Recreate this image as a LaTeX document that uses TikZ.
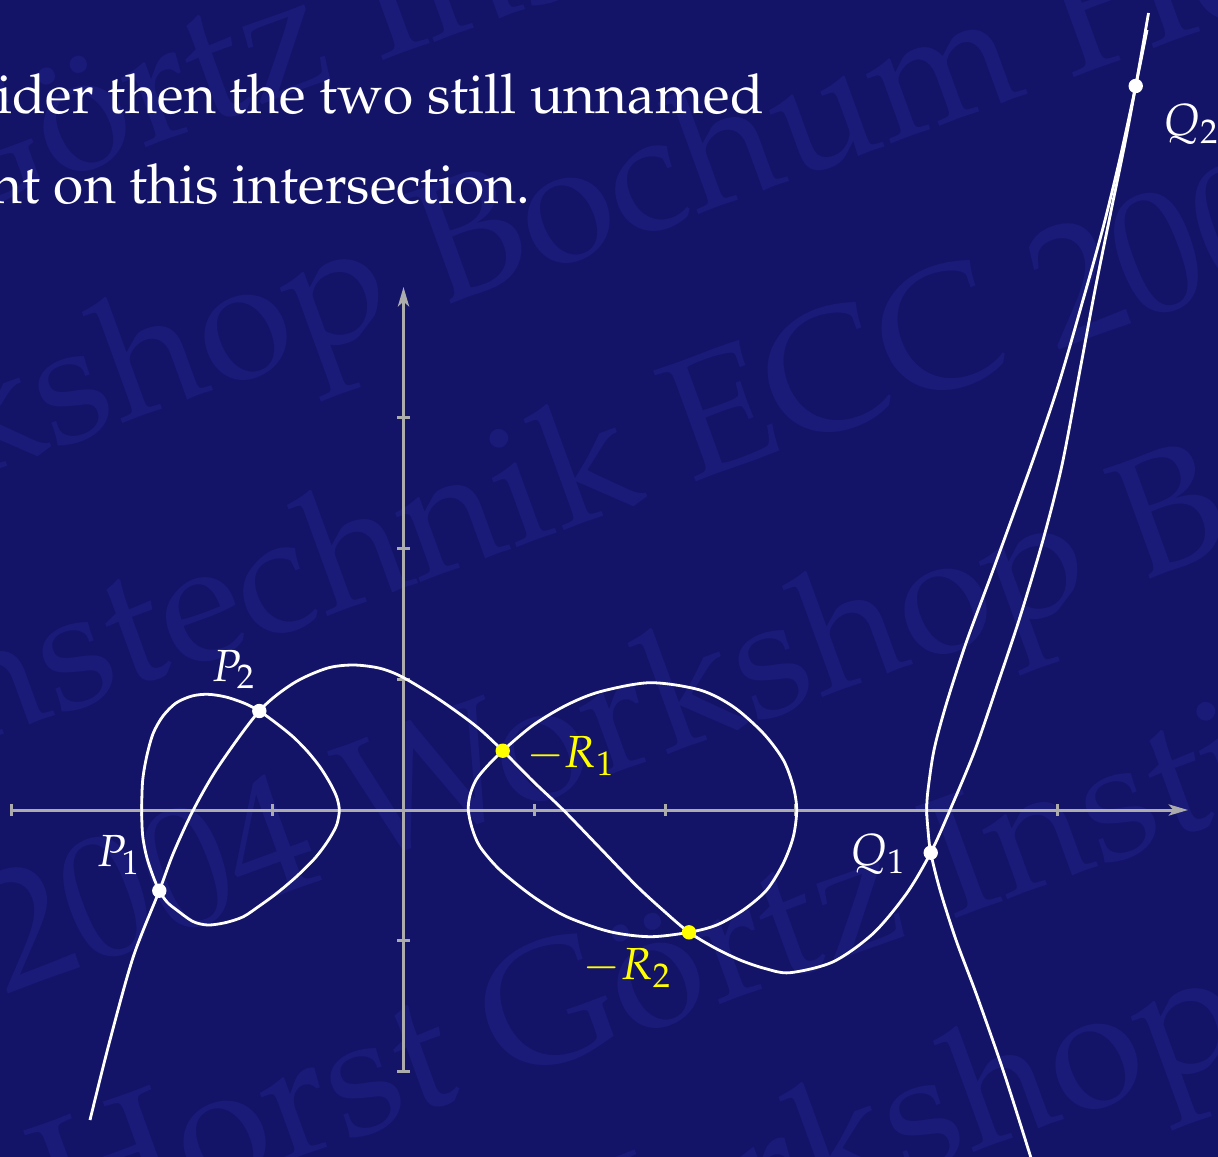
\documentclass[tikz,border=0pt]{standalone}
\usepackage[T1]{fontenc}
\usepackage{mathpazo}
\usetikzlibrary{arrows.meta}
\definecolor{bgblue}{RGB}{19,19,104}
\definecolor{wmblue}{RGB}{26,26,120}
\definecolor{axisgray}{RGB}{172,172,172}
\definecolor{ptyellow}{RGB}{255,255,0}
\begin{document}
\begin{tikzpicture}[x=0.5pt,y=-0.5pt,
  curve/.style={white, line width=1.4pt, line join=round},
  axisline/.style={axisgray, line width=1.5pt},
  tickmark/.style={axisgray, line width=1.5pt},
  wmtext/.style={text=wmblue, inner sep=0pt, rotate=20, font=\fontsize{85.5}{100}\selectfont},
  ptdot/.style={circle, fill=white, inner sep=0pt, minimum size=7.2pt},
  ydot/.style={circle, fill=ptyellow, inner sep=0pt, minimum size=7.2pt},
  lbl/.style={inner sep=0pt, text=white, font=\fontsize{22.5}{27}\selectfont},
  ylbl/.style={lbl, text=ptyellow},
  maintext/.style={inner sep=0pt, text=white, font=\fontsize{27.5}{33}\selectfont}]
\useasboundingbox (0,0) rectangle (1218,1156);
\begin{scope}
\clip (0,0) rectangle (1218,1156);
\fill[bgblue] (-40,-40) rectangle (1258,1196);
% watermark
\node[wmtext, anchor=base east] (wm1a) at (379,62) {Horst G\"ortz\ \null};
\node[wmtext, anchor=base west] (wm1b) at (379,62) {Institut};
\node[wmtext, anchor=base east] (wm2a) at (440,308) {Workshop\ \null};
\node[wmtext, anchor=base west] (wm2b) at (440,308) {Bochum Horst};
\node[wmtext, anchor=base east] (wm3a) at (690,484) {Informationstechnik\ \null};
\node[wmtext, anchor=base west] (wm3b) at (690,484) {ECC 2004 Workshop};
\node[wmtext, anchor=base west] (wm4) at (5,995) {2004 Workshop Bochum};
\node[wmtext, anchor=base west] (wm5) at (60,1244) {Horst G\"ortz Institut};
\node[wmtext, anchor=base east] (wm6a) at (815,1210) {Wor};
\node[wmtext, anchor=base west] (wm6b) at (815,1210) {kshop Bochum};
% axes
\foreach \i in {-3,-2,-1,1,2,3,4,5}
  \draw[tickmark] ({403.5+130.8*\i},804) -- ++(0,12);
\foreach \j in {-2,-1,1,2,3}
  \draw[tickmark] (397,{810-130.8*\j}) -- ++(13,0);
\coordinate (xs) at (11.1,810);
\coordinate (xe) at (1188,810);
\coordinate (ys) at (403.5,1071.6);
\coordinate (ye) at (403.5,287);
\draw[axisline, -{Stealth[length=9.7pt,width=5.6pt,inset=2.4pt]}] (xs) -- (xe);
\draw[axisline, -{Stealth[length=9.7pt,width=5.6pt,inset=2.4pt]}] (ys) -- (ye);
% left oval
\draw[curve] plot[smooth cycle] coordinates {
 (141.7,810) (142.7,780) (147,755) (153.3,733) (163,716) (176,703) (192,696)
 (208,694.3) (226,697) (245,703.5) (259.3,711) (276,723) (293.3,737) (308,752)
 (320,767) (330,783) (336.7,797) (339.3,810) (337,824) (331,836) (323,848)
 (313.3,860) (296,877) (276.7,893.3) (259.3,906) (243.3,916.7) (226,922.5)
 (208,925) (193,921.5) (176.7,910) (167,902) (159.3,890.7) (153,876)
 (146.7,857) (142.7,836)};
% middle oval
\draw[curve] plot[smooth cycle] coordinates {
 (468.3,810) (470,795) (476,780) (486.7,766.7) (502.7,750.7) (533.3,725)
 (566.7,705) (600,691.7) (650,682.7) (700,690) (733.3,706.7) (763.3,733.3)
 (783.3,760) (793.3,786.7) (796.7,810) (793.3,836.7) (783.3,863.3)
 (766.7,890) (743.3,910) (716.7,925) (689,932.3) (650,936.7) (610,931.7)
 (566.7,916.7) (533.3,896.7) (500,870) (480,846.7) (472,828)};
% unbounded branch
\draw[curve] plot[smooth] coordinates {
 (1147,30) (1135.7,86) (1120.5,156) (1103.5,226) (1083,300) (1059,383)
 (1036.5,450) (1017.5,503) (990.5,577) (966,643) (946,705) (934,750) (928,790)
 (926.7,810) (928,830) (930.7,852.7) (940,890) (956,940) (977,996) (1004,1073)
 (1031,1158)};
% wavy curve
\draw[curve] plot[smooth] coordinates {
 (90,1120) (110,1040) (133.3,956.7) (159.3,890.7) (173.3,853.3) (193.3,810)
 (218.3,766.7) (259.3,711) (293.3,683.3) (326.7,668.3) (353.3,665) (380,668.3)
 (403.3,677.5) (440,700) (476.7,726.7) (502.7,750.7) (533.3,781.5) (563.3,810)
 (600,848) (636.7,886) (665,912) (689,932.3) (715,948) (740,960) (765,968.5)
 (790,972.7) (833.3,961.7) (873.3,933.3) (906.7,893.3) (930.7,852.7) (950,810)
 (975,750) (998,683) (1020,617) (1043,540) (1062,465) (1080,370) (1095,290)
 (1110,216) (1125,143) (1135.7,86) (1148.5,13)};
% points
\node[ptdot] (P1) at (159.3,890.7) {};
\node[ptdot] (P2) at (259.3,711) {};
\node[ydot] (R1) at (502.7,750.7) {};
\node[ydot] (R2) at (689,932.3) {};
\node[ptdot] (Q1) at (930.7,852.7) {};
\node[ptdot] (Q2) at (1135.7,86) {};
% labels
\node[lbl] (lP1) at (118.5,855) {$P_1$};
\node[lbl] (lP2) at (233.5,669.5) {$P_2$};
\node[ylbl] (lR1) at (570.5,756) {$-R_1$};
\node[ylbl] (lR2) at (627,968) {$-R_2$};
\node[lbl] (lQ1) at (878,854) {$Q_1$};
\node[lbl] (lQ2) at (1191,124) {$Q_2$};
% text
\node[maintext, anchor=base east] (t1) at (764,113) {ider then the two still unnamed};
\node[maintext, anchor=base east] (t2) at (531,203) {nt on this intersection.};
\end{scope}
\end{tikzpicture}
\end{document}
